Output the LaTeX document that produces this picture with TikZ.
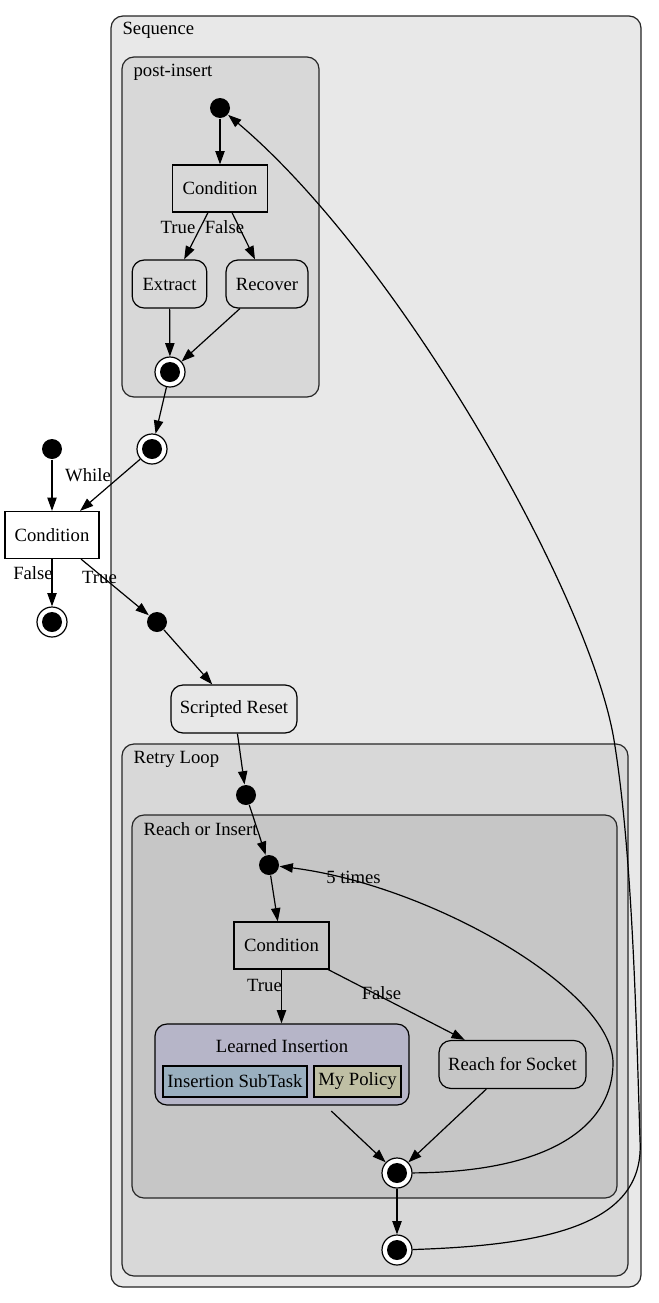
\documentclass[tikz,border=0pt]{standalone}
\usepackage{fontspec}
\setmainfont{Liberation Serif}
\usepackage{tikz}
\usetikzlibrary{arrows.meta}
\usetikzlibrary{positioning}
\definecolor{seqgray}{HTML}{E8E8E8}
\definecolor{loopgray}{HTML}{D8D8D8}
\definecolor{innergray}{HTML}{C6C6C6}
\definecolor{lavender}{HTML}{B6B5C8}
\definecolor{steel}{HTML}{9AAFBF}
\definecolor{khaki}{HTML}{BFBFA4}
\begin{document}
\begin{tikzpicture}[x=0.75pt,y=-0.75pt,
		font=\fontsize{14}{16}\selectfont,
		line width=0.9pt,
		arr/.style={-{Triangle[length=10pt,width=7pt]}},
		cluster/.style={draw=black!85,rounded corners=9pt},
		startdot/.style={circle,fill=black,inner sep=0pt,minimum size=15pt},
		enddot/.style={circle,draw,fill=white,inner sep=0pt,minimum size=22.5pt,
			path picture={\fill[black] (path picture bounding box.center) circle (7.5pt);}},
		cond/.style={rectangle,draw,minimum width=71.25pt,minimum height=35.25pt,inner sep=0pt},
		state/.style={rectangle,draw,rounded corners=9pt,minimum height=36pt,inner sep=0pt},
		part/.style={rectangle,draw,minimum height=23.25pt,inner sep=0pt}]
		\fill[white] (0,0) rectangle (658,1303);
		\useasboundingbox (0,0) rectangle (658,1303);
		
		% clusters
		\draw[cluster,fill=seqgray] (111,16) rectangle (641,1287);
		\draw[cluster,fill=loopgray] (122,57) rectangle (319,397);
		\draw[cluster,fill=loopgray] (122,744) rectangle (628,1276);
		\draw[cluster,fill=innergray] (132,815) rectangle (617,1198);
		\node[anchor=west,inner sep=0pt] (seqLabel) at (122,30) {Sequence};
		\node[anchor=west,inner sep=0pt] (postLabel) at (133,72) {post-insert};
		\node[anchor=west,inner sep=0pt] (retryLabel) at (133,759) {Retry Loop};
		\node[anchor=west,inner sep=0pt] (roiLabel) at (143,829) {Reach or Insert};
		
		% post-insert
		\node[startdot] (pStart) at (220,108) {};
		\node[cond] (pCond) at (220,188.5) {Condition};
		\node[state,minimum width=56pt] (extract) at (169.5,284) {Extract};
		\node[state,minimum width=61.5pt] (recover) at (267,284) {Recover};
		\node[enddot] (pFin) at (170,372) {};
		\node[enddot] (sFin) at (152,449) {};
		
		% while loop
		\node[startdot] (wStart) at (52,449) {};
		\node[cond,fill=white,minimum width=70.5pt] (wCond) at (52,535) {Condition};
		\node[enddot] (wFin) at (52,622) {};
		\node[startdot] (sStart) at (157,622) {};
		\node[state,minimum width=94.5pt] (reset) at (234,709) {Scripted Reset};
		
		% retry loop
		\node[startdot] (rStart) at (246,795) {};
		\node[startdot] (iStart) at (269,865) {};
		\node[cond] (iCond) at (281.5,945.5) {Condition};
		\node[rectangle,draw,rounded corners=9pt,fill=lavender,minimum width=190.5pt,minimum height=60.75pt] (li) at (282,1064.5) {};
		\node (liText) at (282,1046) {Learned Insertion};
		\node[part,fill=steel,minimum width=108pt] (subtask) at (235,1081.5) {Insertion SubTask};
		\node[part,fill=khaki,minimum width=65.25pt] (policy) at (357.5,1081.5) {My Policy};
		\node[state,minimum width=110.25pt] (reach) at (512.5,1064.5) {Reach for Socket};
		\node[enddot] (iFin) at (397,1173) {};
		\node[enddot] (rFin) at (397,1250) {};
		
		% edge labels
		\node (tPost) at (178,227) {True};
		\node (fPost) at (224.5,227) {False};
		\node (lWhile) at (88,475) {While};
		\node (fWhile) at (33,573) {False};
		\node (tWhile) at (99.5,577) {True};
		\node (lTimes) at (353.5,877) {5 times};
		\node (tReach) at (264.5,985) {True};
		\node (fReach) at (381.5,993) {False};
		
		\draw[arr] (pStart) -- (pCond);
		\draw[arr] ([xshift=-9pt]pCond.south) -- ([xshift=11pt]extract.north);
		\draw[arr] ([xshift=9pt]pCond.south) -- ([xshift=-9pt]recover.north);
		\draw[arr] (extract) -- (pFin);
		\draw[arr] (recover) -- (pFin);
		\draw[arr] (pFin) -- (sFin);
		\draw[arr] (sFin) -- (wCond);
		\draw[arr] (wStart) -- (wCond);
		\draw[arr] (wCond) -- (wFin);
		\draw[arr] (wCond) -- (sStart);
		\draw[arr] (sStart) -- (reset);
		\draw[arr] (reset) -- (rStart);
		\draw[arr] (rStart) -- (iStart);
		\draw[arr] (iStart) -- (iCond);
		\draw[arr] (iCond.south) -- (iCond.south |- li.north);
		\draw[arr] (iCond) -- (reach);
		\draw[arr,shorten <=6pt] (li) -- (iFin);
		\draw[arr] (reach) -- (iFin);
		\draw[arr] (iFin) -- (rFin);
		\draw[arr] (iFin) .. controls (560,1172) and (613,1120) .. (613,1063)
			.. controls (613,990) and (430,885) .. (iStart);
		\draw[arr] (rFin) .. controls (560,1245) and (645,1220) .. (640,1140)
			.. controls (636,1010) and (632,850) .. (614,740)
			.. controls (590,595) and (400,260) .. (pStart);
	\end{tikzpicture}
\end{document}
